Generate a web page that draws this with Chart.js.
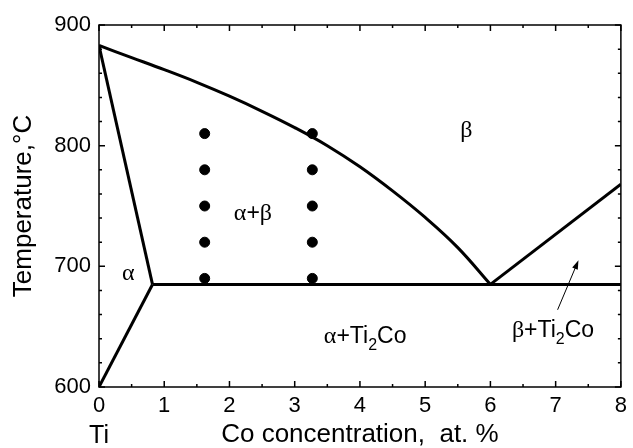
<!DOCTYPE html>
<html>
<head>
<meta charset="utf-8">
<script src="https://cdn.jsdelivr.net/npm/chart.js@4/dist/chart.umd.min.js"></script>
<style>
  html, body { margin: 0; padding: 0; background: #fff; }
  #wrap { width: 633px; height: 448px; }
</style>
</head>
<body>
<div id="wrap"><canvas id="phase"></canvas></div>
<script>
// beta transus (beta / alpha+beta boundary)
const transusCo = [0, 0.5, 1, 1.5, 2, 2.5, 3, 3.5, 4, 4.5, 5, 5.5, 6];
const transusT  = [883, 873, 863, 852.5, 841, 828.5, 815, 800, 782.5, 762.5, 740.5, 715.5, 685];

// alpha / alpha+beta boundary
const alphaCo = [0, 0.82];
const alphaT  = [883, 685];

// alpha / alpha+Ti2Co boundary
const solvusCo = [0, 0.82];
const solvusT  = [600, 685];

// eutectoid isotherm
const eutectoidCo = [0.82, 8];
const eutectoidT  = [685, 685];

// beta / beta+Ti2Co boundary
const hyperCo = [6, 8];
const hyperT  = [685, 768];

// heat-treatment points
const sampleCo = [1.62, 1.62, 1.62, 1.62, 1.62, 3.27, 3.27, 3.27, 3.27, 3.27];
const sampleT  = [690, 720, 750, 780, 810, 690, 720, 750, 780, 810];

// phase field labels
const fieldLabels = [
  { co: 5.63, t: 812, parts: [['β', 'g']] },
  { co: 2.36, t: 744, parts: [['α', 'g'], ['+', 'n'], ['β', 'g']] },
  { co: 0.45, t: 694, parts: [['α', 'g']] },
  { co: 4.08, t: 642, parts: [['α', 'g'], ['+Ti', 'n'], ['2', 's'], ['Co', 'n']] },
  { co: 6.96, t: 647, parts: [['β', 'g'], ['+Ti', 'n'], ['2', 's'], ['Co', 'n']] }
];
const arrowFrom = [7.03, 664];
const arrowTo   = [7.35, 705];

const xTicks = [0, 1, 2, 3, 4, 5, 6, 7, 8];
const yTicks = [600, 700, 800, 900];

function pts(xs, ys) {
  return xs.map((x, i) => ({ x: x, y: ys[i] }));
}

function lineSet(xs, ys, extra) {
  return Object.assign({
    data: pts(xs, ys),
    showLine: true,
    borderColor: '#000',
    borderWidth: 3,
    pointRadius: 0,
    fill: false
  }, extra || {});
}

const fonts = {
  n: '23px "Liberation Sans", Arial, sans-serif',
  s: '16px "Liberation Sans", Arial, sans-serif',
  g: '24px "Liberation Serif", "Times New Roman", serif'
};

// frame, inward ticks, text labels and the arrow
const decor = {
  id: 'decor',
  afterDatasetsDraw(chart) {
    const ctx = chart.ctx;
    const a = chart.chartArea;
    const xs = chart.scales.x, ys = chart.scales.y;
    ctx.save();
    ctx.strokeStyle = '#000';
    ctx.lineWidth = 1.5;
    ctx.strokeRect(a.left, a.top, a.right - a.left, a.bottom - a.top);

    ctx.beginPath();
    for (let v = 0; v <= 8.001; v += 0.5) {
      const px = xs.getPixelForValue(v);
      const len = Math.abs(v - Math.round(v)) < 0.01 ? 6 : 3;
      ctx.moveTo(px, a.bottom); ctx.lineTo(px, a.bottom - len);
      ctx.moveTo(px, a.top); ctx.lineTo(px, a.top + len);
    }
    for (let v = 600; v <= 900; v += 20) {
      const py = ys.getPixelForValue(v);
      const len = v % 100 === 0 ? 6 : 3;
      ctx.moveTo(a.left, py); ctx.lineTo(a.left + len, py);
      ctx.moveTo(a.right, py); ctx.lineTo(a.right - len, py);
    }
    ctx.stroke();

    // labels
    ctx.fillStyle = '#000';
    ctx.textBaseline = 'middle';
    ctx.textAlign = 'left';
    fieldLabels.forEach(lab => {
      let w = 0;
      lab.parts.forEach(p => { ctx.font = fonts[p[1]]; w += ctx.measureText(p[0]).width; });
      let x = xs.getPixelForValue(lab.co) - w / 2;
      const y = ys.getPixelForValue(lab.t);
      lab.parts.forEach(p => {
        ctx.font = fonts[p[1]];
        ctx.fillText(p[0], x, p[1] === 's' ? y + 9 : y);
        x += ctx.measureText(p[0]).width;
      });
    });

    // arrow
    const x0 = xs.getPixelForValue(arrowFrom[0]), y0 = ys.getPixelForValue(arrowFrom[1]);
    const x1 = xs.getPixelForValue(arrowTo[0]), y1 = ys.getPixelForValue(arrowTo[1]);
    const ang = Math.atan2(y1 - y0, x1 - x0);
    ctx.lineWidth = 1;
    ctx.beginPath();
    ctx.moveTo(x0, y0);
    ctx.lineTo(x1 - 6 * Math.cos(ang), y1 - 6 * Math.sin(ang));
    ctx.stroke();
    ctx.beginPath();
    ctx.moveTo(x1, y1);
    ctx.lineTo(x1 - 9 * Math.cos(ang) + 3 * Math.sin(ang), y1 - 9 * Math.sin(ang) - 3 * Math.cos(ang));
    ctx.lineTo(x1 - 9 * Math.cos(ang) - 3 * Math.sin(ang), y1 - 9 * Math.sin(ang) + 3 * Math.cos(ang));
    ctx.closePath();
    ctx.fill();

    // "Ti" under the origin
    ctx.font = '25px "Liberation Sans", Arial, sans-serif';
    ctx.textAlign = 'center';
    ctx.fillText('Ti', xs.getPixelForValue(0), 436);
    ctx.restore();
  }
};

new Chart(document.getElementById('phase'), {
  type: 'scatter',
  data: {
    datasets: [
      lineSet(transusCo, transusT, { tension: 0.4 }),
      lineSet(alphaCo, alphaT),
      lineSet(solvusCo, solvusT),
      lineSet(eutectoidCo, eutectoidT),
      lineSet(hyperCo, hyperT),
      {
        data: pts(sampleCo, sampleT),
        pointRadius: 5,
        pointBackgroundColor: '#000',
        pointBorderColor: '#000',
        showLine: false
      }
    ]
  },
  options: {
    responsive: true,
    maintainAspectRatio: false,
    animation: false,
    layout: { padding: { top: 25, right: 4, left: 0, bottom: 0 } },
    plugins: { legend: { display: false }, tooltip: { enabled: false } },
    scales: {
      x: {
        type: 'linear', min: 0, max: 8,
        grid: { display: false, drawTicks: false },
        border: { display: false },
        afterBuildTicks: s => { s.ticks = xTicks.map(v => ({ value: v })); },
        afterFit: s => { s.height = 61; },
        ticks: {
          autoSkip: false, maxRotation: 0, padding: 6, color: '#000',
          font: { family: '"Liberation Sans", Arial, sans-serif', size: 22 }
        },
        title: {
          display: true, text: 'Co concentration,  at. %', color: '#000',
          padding: { top: 0, bottom: 0 },
          font: { family: '"Liberation Sans", Arial, sans-serif', size: 26, lineHeight: 1 }
        }
      },
      y: {
        type: 'linear', min: 600, max: 900,
        grid: { display: false, drawTicks: false },
        border: { display: false },
        afterBuildTicks: s => { s.ticks = yTicks.map(v => ({ value: v })); },
        afterFit: s => { s.width = 99; },
        ticks: {
          padding: 8, color: '#000',
          font: { family: '"Liberation Sans", Arial, sans-serif', size: 22 }
        },
        title: {
          display: true, text: 'Temperature,°C', color: '#000',
          padding: { top: 11, bottom: 0 },
          font: { family: '"Liberation Sans", Arial, sans-serif', size: 26, lineHeight: 1 }
        }
      }
    }
  },
  plugins: [decor]
});
</script>
</body>
</html>
